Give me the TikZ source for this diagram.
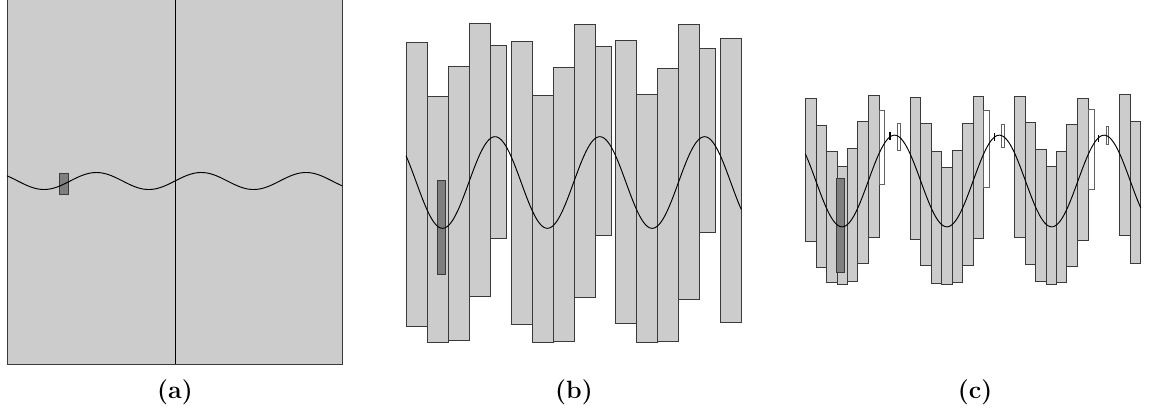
\documentclass[tikz,border=0pt]{standalone}
\definecolor{barfill}{HTML}{CCCCCC}
\definecolor{barline}{HTML}{3A3A3A}
\definecolor{darkfill}{HTML}{7F7F7F}
\tikzset{
  grbar/.style={fill=barfill, draw=barline, line width=0.9pt},
  wbar/.style={fill=white, draw=barline!80, line width=0.8pt},
  dkbar/.style={fill=darkfill, draw=barline, line width=0.9pt},
  wave/.style={draw=black, line width=0.95pt, smooth},
  tickmark/.style={draw=black, line width=1.1pt},
  plabel/.style={font=\fontsize{25}{29}\selectfont\bfseries, inner sep=0pt}
}
\begin{document}
\begin{tikzpicture}[x=1pt,y=-1pt]
\useasboundingbox (0,0) rectangle (1154,410);
% ---------- panel (a)
\fill[barfill] (7,0) rectangle (342,364);
\draw[barline, line width=0.9pt] (7,0) -- (7,364) -- (342,364) -- (342,0);
\draw[black, line width=0.9pt] (175,0) -- (175,364);
\draw[dkbar] (59,173.3) rectangle (68,194.3);
\draw[wave] plot[domain=7:342, samples=200] (\x, {181-8.5*sin(3.4351*(\x-175))});
\node[plabel] (la) at (175,392) {(a)};
% ---------- panel (b)
\foreach \xa/\xb/\yt/\yb in {
  406.3/427.7/42.3/326, 427.7/448.3/96/342.7, 448.3/469/66/340,
  469/490.7/23.3/296, 490.7/506.3/45.3/238,
  511/532.3/41.7/324.3, 532.3/553/95.3/342.7, 553/574.3/67.3/341,
  574.3/595/24/297.3, 595/611.3/46.7/235.7,
  615.3/636.7/40.3/323.3, 636.7/657.3/94/342.7, 657.3/678.7/68.7/341.7,
  678.7/699.3/24.7/299, 699.3/715.7/48.3/232.7,
  720/741.3/38.7/322.3}
  \draw[grbar] (\xa,\yt) rectangle (\xb,\yb);
\draw[dkbar] (437.3,180) rectangle (445.7,274.3);
\draw[wave] plot[domain=406:741.3, samples=300] (\x, {182.5-45.8*sin(3.4351*(\x-468.8))});
\node[plabel] (lb) at (574,392) {(b)};
% ---------- panel (c)
\foreach \xa/\xb/\yt/\yb in {
  805.3/816/98.3/241, 816/826.7/125/267.3, 826.7/837.3/151.7/282.7,
  837.3/847.3/166.7/284, 847.3/857.7/148.7/281.7, 857.7/868.3/121.7/263.3,
  868.3/879/95.3/237.3,
  910/920.7/97.3/239, 920.7/931.7/123.3/265.7, 931.7/941.7/151/283.3,
  941.7/952/167.3/284, 952/962.3/150/282.3, 962.3/973.3/123.3/265,
  973.3/983.3/96.7/238.3,
  1014.3/1025/96/237.7, 1025/1035.7/122.3/264, 1035.7/1046/149.3/281.7,
  1046/1056.3/166.7/284, 1056.3/1066.7/151.7/282.7, 1066.7/1077.3/124.3/266.7,
  1077.3/1088.3/98.3/240,
  1119/1130/94.3/235.7, 1130/1140.7/121/263.3}
  \draw[grbar] (\xa,\yt) rectangle (\xb,\yb);
\foreach \xa/\xb/\yt/\yb in {
  879/884.3/110.7/184.3, 983.3/989.3/110/187.3, 1088.3/1094.3/109.3/189,
  897.3/900/123.3/150.7, 1001.7/1004/124.3/147.3, 1106/1108.3/126.7/144.3}
  \draw[wbar] (\xa,\yt) rectangle (\xb,\yb);
\draw[dkbar] (836.3,178.3) rectangle (844.7,272.7);
\draw[wave] plot[domain=805.3:1140.7, samples=400] (\x, {181-45.8*sin(3.4351*(\x-868.3))});
\foreach \xt/\ya/\yb in {890/132.3/140, 994.3/133/141, 1098.3/135/141.7}
  \draw[tickmark] (\xt,\ya) -- (\xt,\yb);
\node[plabel] (lc) at (975,392) {(c)};
\end{tikzpicture}
\end{document}
